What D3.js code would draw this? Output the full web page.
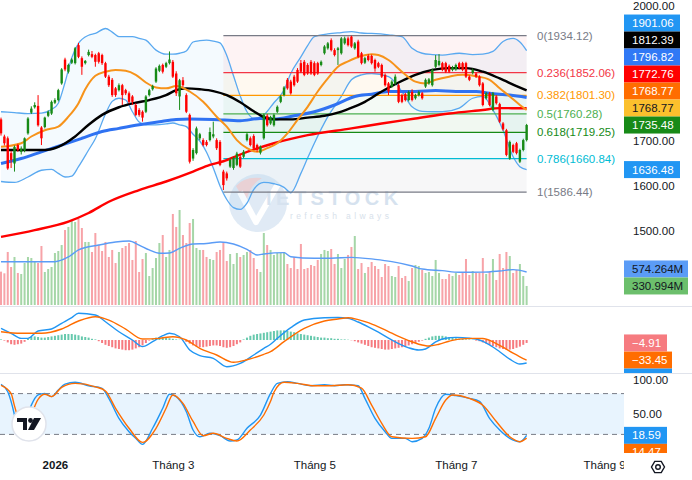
<!DOCTYPE html>
<html>
<head>
<meta charset="utf-8">
<script src="https://cdn.jsdelivr.net/npm/d3@7"></script>
<style>
html, body { margin: 0; padding: 0; background: #fff; }
svg { display: block; font-family: "Liberation Sans", Arial, sans-serif; }
</style>
</head>
<body>
<div class="canvas"></div>
<script>
// candles, one per trading day
var opens = [1748,1710,1706,1673,1650,1691,1676,1679,1717,1763, 1775,1778,1730,1731,1756,1761,1785,1791,1828,1881,
 1854,1874,1873,1913,1884,1873,1891,1893,1891,1895, 1891,1873,1843,1836,1817,1813,1824,1813,1806,1799,
 1780,1769,1765,1765,1802,1815,1832,1856,1869,1865, 1873,1876,1850,1799,1835,1802,1758,1661,1673,1706,
 1702,1698,1702,1710,1702,1698,1632,1628,1643,1640, 1647,1665,1665,1702,1706,1711,1691,1674,1706,1756,
 1739,1735,1765,1787,1802,1836,1832,1843,1858,1873, 1876,1869,1876,1873,1873,1869,1895,1906,1924,1902,
 1902,1895,1917,1928,1932,1906,1921,1895,1874,1889, 1889,1880,1873,1869,1847,1828,1821,1828,1824,1802,
 1804,1791,1809,1795,1802,1806,1821,1828,1824,1865, 1869,1873,1873,1867,1858,1859,1873,1873,1873,1843,
 1851,1850,1843,1828,1795,1806,1769,1799,1782,1739, 1724,1661,1691,1695,1654,1680,1702];
var highs = [1752,1714,1710,1678,1690,1694,1688,1708,1753,1777, 1786,1802,1733,1754,1768,1790,1795,1816,1862,1885,
 1872,1884,1909,1918,1888,1880,1903,1900,1894,1898, 1894,1876,1847,1840,1820,1828,1827,1816,1810,1802,
 1784,1773,1768,1802,1816,1825,1864,1870,1872,1876, 1899,1880,1855,1838,1842,1806,1761,1684,1732,1718,
 1706,1702,1730,1743,1706,1702,1636,1632,1662,1665, 1676,1669,1680,1718,1710,1715,1694,1690,1761,1760,
 1756,1761,1779,1802,1822,1840,1836,1847,1862,1880, 1880,1873,1880,1877,1876,1879,1913,1920,1928,1906,
 1909,1931,1932,1932,1934,1920,1925,1898,1887,1893, 1892,1883,1876,1872,1850,1831,1835,1848,1827,1805,
 1807,1812,1815,1805,1812,1809,1839,1840,1861,1891, 1893,1876,1876,1870,1867,1872,1876,1876,1876,1846,
 1861,1853,1846,1831,1809,1809,1809,1802,1785,1742, 1727,1701,1694,1698,1683,1705,1738];
var lows = [1712,1690,1636,1640,1632,1676,1670,1675,1714,1760, 1772,1732,1691,1728,1753,1758,1782,1788,1825,1855,
 1850,1871,1870,1884,1847,1870,1888,1884,1865,1872, 1869,1840,1820,1798,1798,1810,1780,1802,1783,1780,
 1755,1754,1743,1762,1799,1812,1829,1853,1850,1862, 1870,1840,1800,1769,1820,1762,1650,1656,1670,1702,
 1688,1688,1699,1706,1680,1644,1591,1612,1640,1636, 1644,1640,1662,1699,1688,1680,1676,1670,1703,1732,
 1736,1732,1762,1784,1799,1814,1803,1821,1829,1851, 1844,1847,1847,1844,1847,1866,1892,1903,1899,1888,
 1869,1892,1914,1910,1907,1903,1884,1870,1871,1877, 1870,1854,1862,1840,1821,1802,1818,1825,1784,1784,
 1788,1788,1788,1792,1799,1792,1818,1825,1821,1862, 1866,1855,1851,1851,1855,1856,1859,1855,1840,1833,
 1848,1840,1821,1777,1792,1777,1766,1781,1740,1723, 1666,1658,1673,1670,1651,1677,1699];
var closes = [1717,1695,1639,1658,1687,1680,1683,1706,1750,1772, 1780,1735,1706,1752,1765,1787,1791,1813,1859,1859,
 1869,1881,1906,1887,1865,1878,1898,1887,1876,1876, 1873,1843,1824,1802,1802,1824,1802,1806,1787,1787,
 1758,1758,1752,1799,1813,1822,1861,1867,1854,1873, 1881,1843,1806,1835,1824,1765,1654,1680,1728,1715,
 1691,1691,1720,1715,1684,1647,1602,1617,1658,1662, 1672,1643,1676,1715,1691,1684,1680,1687,1758,1735,
 1753,1758,1776,1799,1819,1817,1806,1824,1832,1854, 1847,1850,1850,1847,1850,1876,1910,1917,1902,1891,
 1906,1928,1928,1913,1910,1917,1887,1873,1884,1880, 1873,1861,1865,1843,1824,1810,1832,1843,1787,1787,
 1791,1809,1791,1802,1809,1795,1836,1837,1858,1880, 1878,1858,1854,1854,1864,1869,1862,1858,1843,1836,
 1858,1843,1824,1780,1806,1780,1806,1784,1743,1726, 1669,1698,1676,1673,1680,1702,1735.48];
// volume, millions
var volumes = [580,551,922,661,835,557,539,730,835,817, 765,730,1026,574,626,661,904,939,1043,1304,
 1357,1478,1443,1496,1339,1096,1096,922,1252,1043, 939,1096,835,957,730,922,991,1026,1078,783,
 1113,574,800,904,504,643,817,1078,1217,835, 957,1583,1357,1652,1217,1078,1426,1496,991,957,
 957,835,800,783,922,957,1096,765,887,713, 904,835,870,922,957,817,626,574,1252,1043,
 957,870,904,904,922,713,643,835,626,1061, 626,643,696,678,783,887,957,939,974,713,
 887,643,800,870,1009,1200,626,730,557,661, 748,678,626,487,713,678,504,487,678,470,
 504,417,643,696,678,609,557,574,504,783, 557,452,452,539,504,557,522,574,800,522,
 591,557,557,817,539,574,800,435,887,643, 922,852,557,609,713,504,330.994];
var volumeMa = [[0,753],[16,753],[20,835],[23,957],[29,1043],[34,1096],[38,1113],[41,1043],[44,957],[47,899],
 [50,904],[53,986],[57,1061],[61,1070],[65,1096],[69,1061],[73,968],[76,870],[78,887],[84,910],[86,840],
 [93,812],[98,812],[104,829],[111,794],[116,754],[122,678],[125,625],[131,597],[136,570],[143,571],
 [148,591],[152,615],[156,574.264]];

// moving averages: [bar, value]
var maBlack = [[0,1680],[6,1680],[13,1680],[17,1687],[22,1710],[26,1736],[30,1758],[35,1775],[40,1785],[44,1791],
 [49,1802],[52,1813],[55,1817],[59,1815],[63,1811],[67,1802],[71,1786],[75,1766],[78,1753],[81,1748],[86,1748],
 [91,1752],[96,1756],[100,1763],[103,1771],[108,1787],[113,1810],[118,1830],[123,1847],[128,1858],[133,1862],
 [138,1862],[143,1854],[148,1839],[153,1822],[156,1812.39]];
var maBlue = [[0,1650],[6,1661],[12,1676],[18,1691],[24,1706],[30,1721],[35,1728],[41,1736],[47,1743],[52,1748],
 [56,1749],[63,1748],[71,1745],[77,1750],[81,1749],[87,1756],[93,1765],[99,1780],[105,1799],[110,1804],
 [115,1810],[123,1810],[129,1812],[135,1810],[141,1810],[145,1806],[151,1802],[156,1796.82]];
var maRed = [[0,1487],[10,1502],[20,1521],[26,1540],[32,1565],[41,1591],[49,1610],[57,1632],[62,1647],[66,1655],
 [71,1670],[81,1695],[91,1713],[104,1728],[113,1739],[123,1750],[133,1761],[143,1769],[148,1773],[156,1772.76]];
var maOrange = [[0,1687],[6,1695],[9,1710],[13,1724],[17,1732],[20,1754],[23,1784],[25,1815],[28,1845],[31,1854],
 [34,1858],[37,1856],[40,1847],[43,1830],[46,1819],[49,1817],[52,1822],[56,1810],[60,1787],[64,1754],[67,1732],
 [70,1702],[73,1684],[76,1676],[79,1684],[82,1695],[85,1717],[88,1747],[91,1776],[94,1810],[97,1839],[100,1865],
 [103,1877],[107,1889],[110,1893],[112,1891],[115,1880],[119,1854],[123,1832],[126,1828],[129,1836],[133,1843],
 [137,1847],[141,1844],[145,1836],[148,1817],[151,1799],[154,1780],[156,1768.77]];
var maAmberLast = 1768.77;

// Bollinger bands
var bbBars = [0,4,8,12,15,17,19,21,23,26,28,31,33,35,37,39,41,43,46,49,51,53,55,57,59,61,63,65,67,69,71,73,75,78,
 81,84,86,89,91,93,97,101,104,107,110,115,119,122,125,128,131,136,140,143,146,149,152,154,156];
var bbUpper = [1765,1763,1761,1762,1770,1784,1830,1885,1917,1935,1939,1950,1942,1932,1932,1932,1928,1924,1902,1893,
 1893,1895,1900,1920,1923,1924,1922,1918,1890,1845,1800,1765,1750,1758,1785,1813,1850,1887,1912,1932,1938,1941,
 1943,1940,1939,1936,1932,1906,1895,1892,1891,1895,1892,1893,1899,1921,1928,1920,1901.06];
var bbLower = [1610,1608,1620,1635,1637,1628,1620,1622,1643,1680,1705,1760,1788,1795,1791,1765,1742,1736,1736,1738,
 1740,1736,1732,1715,1700,1675,1640,1600,1570,1552,1548,1562,1592,1608,1605,1597,1585,1628,1662,1695,1754,1799,
 1836,1847,1850,1843,1810,1776,1766,1765,1765,1773,1795,1799,1769,1724,1665,1643,1636.48];

// Fibonacci retracement
var fibRatios = [0, 0.236, 0.382, 0.5, 0.618, 0.786, 1];
var fibPrices = [1934.12, 1852.06, 1801.30, 1760.28, 1719.25, 1660.84, 1586.44];
var fibColors = ["#787b86", "#f23645", "#ff9800", "#4caf50", "#168a16", "#00bcd4", "#787b86"];
var fibFrom = 66, fibTo = 156;

// MACD
var macdLine = [[0,19.5],[3,11.2],[6,2.8],[8,2.8],[11,15],[15,18.3],[18,27.8],[21,37.2],[23,44.5],[28,41.7],
 [31,30.5],[35,13.8],[39,0],[42,-11],[45,-2.8],[48,7.2],[50,11.2],[53,5.5],[56,-16.7],[59,-26],[63,-30.5],
 [67,-44.5],[71,-38.9],[75,-25],[78,-13.9],[80,-7],[82,2.8],[86,20.6],[90,33.3],[96,37.2],[100,37.5],[103,36],
 [106,30],[109,22],[112,13],[115,3],[118,-6],[121,-13],[124,-16.7],[126,-15],[129,-3],[132,3],[135,4.4],
 [139,3],[142,0],[145,-8],[148,-19.5],[151,-32],[154,-40],[156,-38.36]];
var macdSignal = [[0,13.8],[6,11.2],[12,11.2],[18,18.3],[23,31.7],[28,38.9],[32,33.3],[37,18.3],[42,1.7],[47,2.8],
 [51,5.5],[55,0],[59,-13.9],[64,-25],[69,-37.2],[73,-33],[78,-23.9],[80,-19.5],[84,-2.8],[90,19.4],[96,31.7],
 [100,35],[103,37.2],[106,34],[109,29],[112,22],[115,14],[118,6],[121,-1],[124,-7],[127,-10],[130,-7],[133,-2],
 [136,1.5],[140,2.8],[143,2.5],[146,-3],[149,-12],[152,-22],[154,-28],[156,-33.45]];
var macdHist = [1,-1,-4,-7,-8,-7,-6,-3,2,5, 6,5,4,4,5,6,7,8,9,10, 10,10,9,8,6,5,4,2,1,-2,
 -5,-8,-10,-12,-14,-15,-16,-17,-17,-16, -14,-12,-9,-5,-1,2,4,5,5,4, 3,2,1,0.5,-0.5,-3,-6,-9,-11,-12,
 -12,-11,-10,-9,-9,-10,-12,-13,-12,-10, -7,-4,1,4,7,9,10,11,12,13, 14,15,16,16,16,15,14,13,11,10,
 9,8,7,6,5,4,4,3,3,2, 2,1,1,0.5,-0.5,-2,-4,-6,-8,-10, -12,-13,-14,-15,-16,-16,-15,-14,-13,-12,
 -11,-9,-7,-5,-3,-1,2,4,6,7, 7,7,6,5,4,3,2,2,1,1, 0.5,-1,-2,-4,-6,-8,-10,-12,-14,-15,
 -16,-16,-15,-13,-11,-8,-4.91];

// Stochastic
var stochK = [[0,93.6],[2,82.8],[4,48.5],[5,24],[6,18],[7,35],[9,63],[11,78],[13,80.4],[15,75.5],[17,85.3],
 [19,94],[22,96.6],[26,91.6],[30,87.7],[32,73],[35,43.6],[38,24],[40,14.2],[42,5.4],[45,29],[48,58.4],[50,79],
 [52,75.5],[55,53.4],[57,26.5],[59,16.6],[62,21.6],[65,18.1],[68,10.3],[70,11.8],[73,29],[77,48.5],[80,80.4],
 [82,95],[85,97.5],[88,95],[92,91.6],[96,93],[99,91.6],[102,93],[106,91.6],[108,73],[111,43.6],[114,24],
 [116,14.2],[120,14.2],[122,9.3],[125,14.2],[127,29],[129,58.4],[132,79],[135,77],[139,73],[142,68.6],
 [145,43.6],[148,26.5],[151,14.2],[154,9.3],[156,18.59]];
var stochD = [[0,92],[3,80],[4,62],[5,45],[6,30],[7,24],[8,35],[11,71.6],[13,79],[15,75.5],[18,89.2],[22,95],
 [28,90],[31,83.8],[34,58.4],[38,29],[42,8.3],[46,29],[49,58.4],[51,78],[54,65.7],[57,39],[60,18.1],[63,21.6],
 [67,14.2],[70,10.3],[74,26.5],[78,48.5],[80,68.6],[81,82],[84,96.6],[88,95],[93,91.6],[98,91.6],[103,93],
 [107,88],[110,63],[113,36.3],[116,16.6],[122,14.2],[126,16.6],[129,43.6],[132,70.6],[134,78],[139,73],
 [143,63],[147,38.9],[151,16.6],[154,9.3],[156,14.47]];

// axes
var timeTicks = [16, 51, 93, 135, 179];
var timeLabels = ["2026", "Tháng 3", "Tháng 5", "Tháng 7", "Tháng 9"];
var priceTicks = [2000, 1700, 1600, 1500];
var stochTicks = [100, 50];

var upColor = "#178a17", downColor = "#ff0000";

function drawChart() {
    var W = 692, H = 480, PW = 624;
    var mainBottom = 306, macdBottom = 373, stochBottom = 453;

    var x = d3.scaleLinear().domain([-0.3, 184.9]).range([0, PW]);
    var yP = d3.scaleLinear().domain([1333.33, 2013.33]).range([mainBottom, 0]);
    var yV = d3.scaleLinear().domain([0, 1826]).range([305, 200]);
    var yM = d3.scaleLinear().domain([-55, 56.7]).range([macdBottom, mainBottom]);
    var yS = d3.scaleLinear().domain([0, 100]).range([448, 380]);

    var svg = d3.select(".canvas").append("svg")
        .attr("width", W).attr("height", H);

    var defs = svg.append("defs");
    function clip(id, x0, y0, w, h) {
        defs.append("clipPath").attr("id", id).append("rect")
            .attr("x", x0).attr("y", y0).attr("width", w).attr("height", h);
    }
    clip("cMain", 0, 0, PW, mainBottom);
    clip("cMacd", 0, mainBottom + 1, PW, macdBottom - mainBottom - 1);
    clip("cStoch", 0, macdBottom + 1, PW, stochBottom - macdBottom - 1);
    clip("cMacdLab", PW, mainBottom + 1, W - PW, macdBottom - mainBottom - 1);
    clip("cStochLab", PW, macdBottom + 1, W - PW, stochBottom - macdBottom - 1);
    clip("cAxis", 0, stochBottom, PW, H - stochBottom);

    var line = function (sc) {
        return d3.line().x(function (d) { return x(d[0]); })
            .y(function (d) { return sc(d[1]); }).curve(d3.curveMonotoneX);
    };

    var main = svg.append("g").attr("clip-path", "url(#cMain)");

    // fib zones
    for (var k = 1; k < fibPrices.length; k++) {
        main.append("rect")
            .attr("x", x(fibFrom)).attr("width", x(fibTo) - x(fibFrom))
            .attr("y", yP(fibPrices[k - 1]))
            .attr("height", yP(fibPrices[k]) - yP(fibPrices[k - 1]))
            .attr("fill", fibColors[k]).attr("fill-opacity", 0.06);
    }

    // watermark
    var wm = main.append("g").attr("opacity", 0.75);
    wm.append("circle").attr("cx", 258).attr("cy", 203).attr("r", 29).attr("fill", "#d6e4f2");
    wm.append("path").attr("d", "M236,186 Q244,176 262,178 Q248,186 246,204 Z").attr("fill", "#f3c9c9");
    wm.append("path").attr("d", "M240,192 L256,222 L278,184").attr("fill", "none")
        .attr("stroke", "#fff").attr("stroke-width", 6).attr("stroke-linejoin", "round");
    wm.append("text").attr("x", 266).attr("y", 205).text("IETSTOCK")
        .attr("font-size", 20).attr("font-weight", "bold").attr("letter-spacing", 4.5)
        .attr("fill", "#c9d9ea");
    wm.append("text").attr("x", 290).attr("y", 219).text("refresh always")
        .attr("font-size", 8.5).attr("letter-spacing", 3.4).attr("fill", "#cbd7e5");

    // volume
    main.append("g").selectAll("rect").data(volumes).enter().append("rect")
        .attr("x", function (d, i) { return x(i) - 1; })
        .attr("width", 2)
        .attr("y", function (d) { return yV(d); })
        .attr("height", function (d) { return yV(0) - yV(d); })
        .attr("fill", function (d, i) { return closes[i] >= opens[i] ? "#a5d6a7" : "#f7a3a8"; });
    main.append("path").datum(volumeMa).attr("d", line(yV))
        .attr("fill", "none").attr("stroke", "#5b9cf6").attr("stroke-width", 1.4);

    // bollinger
    var bb = bbBars.map(function (b, i) { return [b, bbUpper[i], bbLower[i]]; });
    main.append("path").datum(bb)
        .attr("d", d3.area().x(function (d) { return x(d[0]); })
            .y0(function (d) { return yP(d[2]); }).y1(function (d) { return yP(d[1]); })
            .curve(d3.curveMonotoneX))
        .attr("fill", "#2196f3").attr("fill-opacity", 0.05);
    [1, 2].forEach(function (c) {
        main.append("path").datum(bb)
            .attr("d", d3.line().x(function (d) { return x(d[0]); })
                .y(function (d) { return yP(d[c]); }).curve(d3.curveMonotoneX))
            .attr("fill", "none").attr("stroke", "#5aa9f0").attr("stroke-width", 1.3);
    });

    // fib lines
    fibPrices.forEach(function (p, k) {
        main.append("line")
            .attr("x1", x(fibFrom)).attr("x2", x(fibTo))
            .attr("y1", yP(p)).attr("y2", yP(p))
            .attr("stroke", fibColors[k]).attr("stroke-width", 1.2);
    });

    // moving averages
    [[maRed, "#ff0000", 2.4], [maBlue, "#2f72f2", 3], [maBlack, "#000000", 2.4], [maOrange, "#f7931a", 2]]
        .forEach(function (m) {
            main.append("path").datum(m[0]).attr("d", line(yP))
                .attr("fill", "none").attr("stroke", m[1]).attr("stroke-width", m[2]);
        });

    // candles
    var cg = main.append("g");
    closes.forEach(function (c, i) {
        var col = c >= opens[i] ? upColor : downColor;
        cg.append("line").attr("x1", x(i)).attr("x2", x(i))
            .attr("y1", yP(highs[i])).attr("y2", yP(lows[i]))
            .attr("stroke", col).attr("stroke-width", 1);
        var top = yP(Math.max(c, opens[i])), bot = yP(Math.min(c, opens[i]));
        cg.append("rect").attr("x", x(i) - 1.2).attr("width", 2.4)
            .attr("y", top).attr("height", Math.max(1, bot - top)).attr("fill", col);
    });

    // fib labels
    fibPrices.forEach(function (p, k) {
        svg.append("text").attr("x", 537).attr("y", yP(p) + 4)
            .text(fibRatios[k] + "(" + p.toFixed(2) + ")")
            .attr("font-size", 11.5).attr("fill", fibColors[k]);
    });

    // MACD pane
    var macd = svg.append("g").attr("clip-path", "url(#cMacd)");
    macd.append("g").selectAll("rect").data(macdHist).enter().append("rect")
        .attr("x", function (d, i) { return x(i) - 1; }).attr("width", 2)
        .attr("y", function (d) { return Math.min(yM(d), yM(0)); })
        .attr("height", function (d) { return Math.abs(yM(d) - yM(0)); })
        .attr("fill", function (d) { return d >= 0 ? "#67c9ad" : "#f67b80"; });
    macd.append("path").datum(macdLine).attr("d", line(yM))
        .attr("fill", "none").attr("stroke", "#2196f3").attr("stroke-width", 1.4);
    macd.append("path").datum(macdSignal).attr("d", line(yM))
        .attr("fill", "none").attr("stroke", "#ff6d00").attr("stroke-width", 1.4);

    // stochastic pane
    var sto = svg.append("g").attr("clip-path", "url(#cStoch)");
    sto.append("rect").attr("x", 0).attr("width", PW)
        .attr("y", yS(80)).attr("height", yS(20) - yS(80))
        .attr("fill", "#2196f3").attr("fill-opacity", 0.1);
    [80, 20].forEach(function (v) {
        sto.append("line").attr("x1", 0).attr("x2", PW).attr("y1", yS(v)).attr("y2", yS(v))
            .attr("stroke", "#787b86").attr("stroke-dasharray", "5,4");
    });
    sto.append("path").datum(stochK).attr("d", line(yS))
        .attr("fill", "none").attr("stroke", "#2196f3").attr("stroke-width", 1.4);
    sto.append("path").datum(stochD).attr("d", line(yS))
        .attr("fill", "none").attr("stroke", "#ff6d00").attr("stroke-width", 1.4);

    // TradingView badge
    var tv = svg.append("g").attr("transform", "translate(29,424)");
    tv.append("circle").attr("r", 17).attr("fill", "#fff").attr("stroke", "#e0e3eb").attr("stroke-width", 1.5);
    tv.append("path").attr("d", "M-12,-6 H-2 V6 H-6 V-2 H-12 Z").attr("fill", "#131722");
    tv.append("circle").attr("cx", 1.5).attr("cy", -3.5).attr("r", 2.4).attr("fill", "#131722");
    tv.append("path").attr("d", "M5,-6 H12 L5,6 H-1 Z").attr("fill", "#131722");

    // pane separators
    [mainBottom, macdBottom].forEach(function (yy) {
        svg.append("line").attr("x1", 0).attr("x2", W).attr("y1", yy + 0.5).attr("y2", yy + 0.5)
            .attr("stroke", "#e0e3eb").attr("stroke-width", 1.2);
    });

    // price axis
    var pAxis = svg.append("g").attr("transform", "translate(" + PW + ",0)")
        .call(d3.axisRight(yP).tickValues(priceTicks).tickFormat(d3.format(".2f")).tickSize(0).tickPadding(9));
    var sAxis = svg.append("g").attr("transform", "translate(" + PW + ",0)")
        .call(d3.axisRight(yS).tickValues(stochTicks).tickFormat(d3.format(".2f")).tickSize(0).tickPadding(9));
    [pAxis, sAxis].forEach(function (a) {
        a.select(".domain").remove();
        a.selectAll("text").attr("font-size", 11.5).attr("fill", "#131722")
            .attr("font-family", "Liberation Sans, Arial, sans-serif");
    });

    // time axis
    var tAxis = svg.append("g").attr("clip-path", "url(#cAxis)")
        .append("g").attr("transform", "translate(0," + stochBottom + ")")
        .call(d3.axisBottom(x).tickValues(timeTicks)
            .tickFormat(function (d, i) { return timeLabels[i]; }).tickSize(0).tickPadding(8));
    tAxis.select(".domain").remove();
    tAxis.selectAll("text").attr("font-size", 11.5).attr("fill", "#131722")
        .attr("font-family", "Liberation Sans, Arial, sans-serif")
        .attr("font-weight", function (d, i) { return i === 0 ? "bold" : "normal"; });

    // gear icon
    var gear = svg.append("g").attr("transform", "translate(658,467)");
    gear.append("path").attr("d", d3.line()(d3.range(6).map(function (k) {
        var a = Math.PI / 3 * k;
        return [6.5 * Math.cos(a), 6.5 * Math.sin(a)];
    })) + "Z").attr("fill", "none").attr("stroke", "#131722").attr("stroke-width", 1.4);
    gear.append("circle").attr("r", 2.3).attr("fill", "none").attr("stroke", "#131722").attr("stroke-width", 1.4);

    // last value labels, pushed apart like the platform does
    function stack(items, down) {
        items.forEach(function (d) { d.y = d.sc(d.v); });
        if (down) {
            for (var k = 1; k < items.length; k++) items[k].y = Math.max(items[k].y, items[k - 1].y + 17);
        } else {
            for (var j = items.length - 2; j >= 0; j--) items[j].y = Math.min(items[j].y, items[j + 1].y - 17);
        }
        return items;
    }
    function last(a) { var d = a[a.length - 1]; return Array.isArray(d) ? d[1] : d; }

    var priceLabels = stack([
        { v: last(bbUpper), bg: "#2196f3", fg: "#fff", sc: yP },
        { v: last(maBlack), bg: "#000000", fg: "#fff", sc: yP },
        { v: last(maBlue), bg: "#3179f5", fg: "#fff", sc: yP },
        { v: last(maRed), bg: "#ff0000", fg: "#fff", sc: yP },
        { v: last(maOrange), bg: "#ff6d00", fg: "#fff", sc: yP },
        { v: maAmberLast, bg: "#fbc02d", fg: "#131722", sc: yP },
        { v: last(closes), bg: upColor, fg: "#fff", sc: yP }
    ], false).concat(stack([{ v: last(bbLower), bg: "#2196f3", fg: "#fff", sc: yP }], false));
    var volLabels = stack([
        { v: last(volumeMa), bg: "#5b9cf6", fg: "#131722", sc: yV, t: "574.264M", w: 64 },
        { v: last(volumes), bg: "#6cbf6c", fg: "#131722", sc: yV, t: "330.994M", w: 64 }
    ], false);
    // the MACD line label sits under the pane edge, only its box edge shows
    var macdLabels = stack([
        { v: last(macdHist), bg: "#f67b80", fg: "#fff", sc: yM, w: 43 },
        { v: last(macdSignal), bg: "#ff6d00", fg: "#fff", sc: yM, w: 48 },
        { v: last(macdLine), bg: "#2196f3", fg: "#fff", sc: yM, w: 48, hidden: true }
    ], true);
    var stochLabels = stack([
        { v: last(stochK), bg: "#2196f3", fg: "#fff", sc: yS, w: 43 },
        { v: last(stochD), bg: "#ff6d00", fg: "#fff", sc: yS, w: 43 }
    ], true);

    function drawLabels(items, clipId) {
        var g = svg.append("g");
        if (clipId) g.attr("clip-path", "url(#" + clipId + ")");
        items.forEach(function (d) {
            g.append("rect").attr("x", PW).attr("y", d.y - 8.5)
                .attr("width", d.w || 56).attr("height", 17).attr("fill", d.bg);
            if (d.hidden) return;
            g.append("text").attr("x", PW + 8).attr("y", d.y + 4)
                .text(d.t || d3.format(".2f")(d.v).replace("-", "\u2212"))
                .attr("font-size", 11.5).attr("fill", d.fg);
        });
    }
    drawLabels(priceLabels);
    drawLabels(volLabels);
    drawLabels(macdLabels, "cMacdLab");
    drawLabels(stochLabels, "cStochLab");
}

drawChart();
</script>
</body>
</html>
